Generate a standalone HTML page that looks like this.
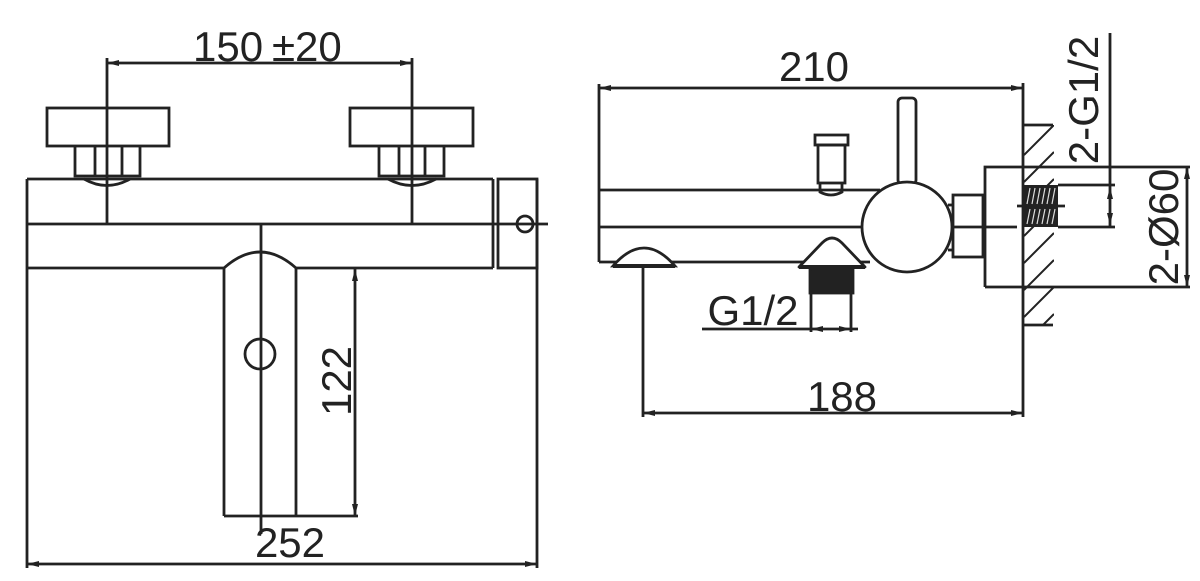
<!DOCTYPE html>
<html><head><meta charset="utf-8"><style>html,body{margin:0;padding:0;background:#fff;}svg{display:block}</style></head>
<body>
<svg width="1200" height="581" viewBox="0 0 1200 581" xmlns="http://www.w3.org/2000/svg">
<defs>
<marker id="a" viewBox="0 0 12 6" refX="12" refY="3" markerWidth="12" markerHeight="6" markerUnits="userSpaceOnUse" orient="auto-start-reverse"><path d="M0,0 L12,3 L0,6 z" fill="#222"/></marker>
<clipPath id="hc"><rect x="1024" y="125" width="30" height="200"/></clipPath>
</defs>
<g fill="none" stroke="#222" stroke-width="2.8">
<line x1="107" y1="63" x2="412" y2="63" marker-start="url(#a)" marker-end="url(#a)"/>
<line x1="107" y1="58" x2="107" y2="224"/>
<line x1="412" y1="58" x2="412" y2="224"/>
<rect x="47" y="108" width="122" height="38"/>
<rect x="350" y="108" width="123" height="38"/>
<path d="M75,146 V176 H140 V146 M95,146 V176 M122,146 V176"/>
<path d="M379,146 V176 H444 V146 M399,146 V176 M425,146 V176"/>
<path d="M84,179 Q107,192 130,179"/>
<path d="M388,179 Q412,192 436,179"/>
<line x1="27" y1="179" x2="493" y2="179"/>
<line x1="27" y1="179" x2="27" y2="568"/>
<line x1="537" y1="179" x2="537" y2="568"/>
<line x1="27" y1="224" x2="548" y2="224"/>
<rect x="498" y="179" width="39" height="89"/>
<line x1="493" y1="179" x2="493" y2="268"/>
<circle cx="525" cy="224" r="8"/>
<line x1="27" y1="268" x2="224" y2="268"/>
<line x1="296" y1="268" x2="493" y2="268"/>
<path d="M224,268 Q260,236 296,268"/>
<line x1="224" y1="268" x2="224" y2="516"/>
<line x1="296" y1="268" x2="296" y2="516"/>
<line x1="261" y1="224" x2="261" y2="534"/>
<line x1="224" y1="516" x2="358" y2="516"/>
<circle cx="260" cy="354" r="15"/>
<line x1="355" y1="269" x2="355" y2="516" marker-start="url(#a)" marker-end="url(#a)"/>
<line x1="27" y1="564" x2="537" y2="564" marker-start="url(#a)" marker-end="url(#a)"/>
<line x1="599" y1="88" x2="1023" y2="88" marker-start="url(#a)" marker-end="url(#a)"/>
<line x1="599" y1="84" x2="599" y2="262"/>
<rect x="898" y="98" width="18" height="86" rx="4"/>
<rect x="815" y="135" width="33" height="10"/>
<rect x="818" y="145" width="27" height="38"/>
<path d="M820,183 V192 Q831,198 842,192 V183"/>
<line x1="599" y1="190" x2="880" y2="190"/>
<line x1="599" y1="227" x2="1017" y2="227"/>
<line x1="599" y1="262" x2="870" y2="262"/>
<circle cx="907" cy="227" r="45" fill="#fff"/>
<rect x="953" y="195" width="30" height="62"/>
<line x1="948" y1="205" x2="953" y2="205"/><line x1="948" y1="250" x2="953" y2="250"/>
<path d="M985,287 V167 H1190 M985,287 H1190"/>
<path d="M613,266 Q644,230 675,266 z" fill="#fff"/>
<line x1="613" y1="266" x2="675" y2="266" stroke-width="4"/>
<path d="M799,267 L822,243 Q832,233 842,243 L865,267 z" fill="#fff" stroke-linejoin="round"/>
<line x1="799" y1="267" x2="865" y2="267" stroke-width="4"/>
<rect x="810" y="269" width="43" height="24" fill="#222"/>
<path d="M811,293 V332 M851,293 V332"/>
<line x1="702" y1="329" x2="858" y2="329"/>
<line x1="811" y1="329" x2="851" y2="329" marker-start="url(#a)" marker-end="url(#a)" stroke-width="1.5"/>
<line x1="643" y1="266" x2="643" y2="417"/>
<line x1="643" y1="413" x2="1023" y2="413" marker-start="url(#a)" marker-end="url(#a)"/>
<line x1="1023" y1="83" x2="1023" y2="417"/>
<path d="M1023,125 H1053 M1023,325 H1053" />
<g stroke-width="2" clip-path="url(#hc)">
<path d="M1024,155 l30,-30 M1024,182 l30,-30 M1024,209 l30,-30 M1024,236 l30,-30 M1024,263 l30,-30 M1024,290 l30,-30 M1024,317 l30,-30 M1024,344 l30,-30"/>
</g>
<rect x="1023" y="185" width="35" height="42" fill="#222" stroke="none"/>
<g stroke="#ddd" stroke-width="1.2"><path d="M1027,204 L1030,188 M1032,204 L1035,188 M1037,204 L1040,188 M1042,204 L1045,188 M1047,204 L1050,188 M1052,204 L1055,188 M1027,224 L1030,209 M1032,224 L1035,209 M1037,224 L1040,209 M1042,224 L1045,209 M1047,224 L1050,209 M1052,224 L1055,209"/></g>
<line x1="1017" y1="206" x2="1065" y2="206"/>
<line x1="1058" y1="185" x2="1115" y2="185"/>
<line x1="1058" y1="227" x2="1115" y2="227"/>
<line x1="1110" y1="33" x2="1110" y2="227"/>
<line x1="1110" y1="187" x2="1110" y2="225" marker-start="url(#a)" marker-end="url(#a)" stroke-width="1.5"/>
<line x1="1187" y1="167" x2="1187" y2="287" marker-start="url(#a)" marker-end="url(#a)"/>
</g>
<g font-family="'Liberation Sans', sans-serif" font-size="42" fill="#222">
<text x="193" y="61">150</text>
<text x="272" y="61">±20</text>
<text x="290" y="557" text-anchor="middle">252</text>
<text transform="translate(351,381) rotate(-90)" text-anchor="middle">122</text>
<text x="814" y="81" text-anchor="middle">210</text>
<text x="842" y="411" text-anchor="middle">188</text>
<text x="753" y="325" text-anchor="middle">G1/2</text>
<text transform="translate(1098,100) rotate(-90)" text-anchor="middle">2-G1/2</text>
<text transform="translate(1178,227) rotate(-90)" text-anchor="middle">2-Ø60</text>
</g>
</svg>
</body></html>
